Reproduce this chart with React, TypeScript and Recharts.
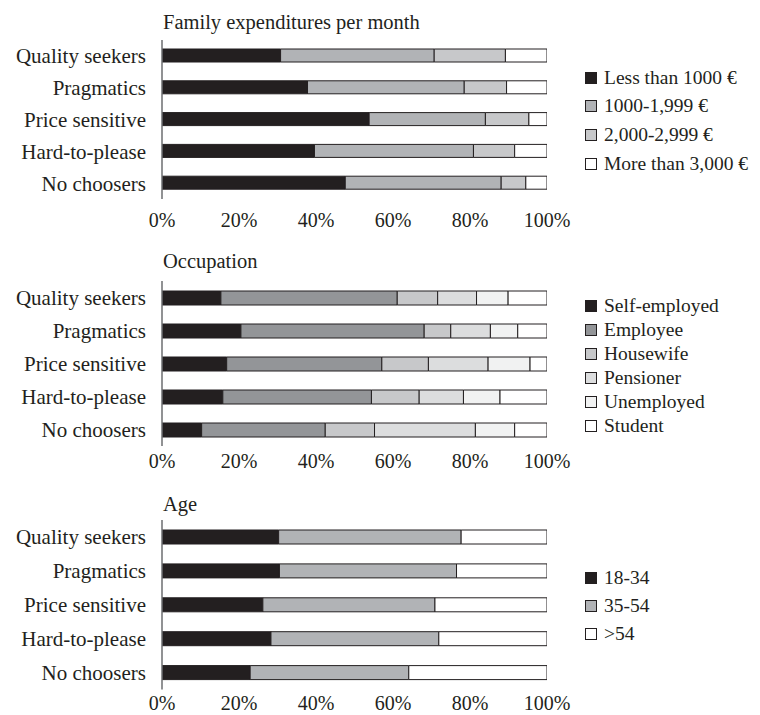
import { BarChart, Bar, XAxis, YAxis } from "recharts";

const FONT = '"Liberation Serif", "Times New Roman", serif';
const INK = "#231f20";

const segments = ["Quality seekers", "Pragmatics", "Price sensitive", "Hard-to-please", "No choosers"];
const pctTicks = [0, 20, 40, 60, 80, 100];

// family expenditures per month (% of each segment)
const spendLabels = ["Less than 1000 €", "1000-1,999 €", "2,000-2,999 €", "More than 3,000 €"];
const spendColors = [INK, "#b1b3b6", "#c7c8ca", "#ffffff"];
const spendUnder1000 = [30.8, 37.8, 53.8, 39.6, 47.6];
const spend1000 = [39.9, 40.7, 30.2, 41.3, 40.5];
const spend2000 = [18.5, 11.0, 11.3, 10.7, 6.4];
const spend3000 = [10.8, 10.5, 4.7, 8.4, 5.5];

// occupation
const jobLabels = ["Self-employed", "Employee", "Housewife", "Pensioner", "Unemployed", "Student"];
const jobColors = [INK, "#939598", "#c7c8ca", "#dcddde", "#f1f2f2", "#ffffff"];
const selfEmployed = [15.3, 20.5, 16.8, 15.8, 10.3];
const employee = [45.8, 47.6, 40.3, 38.6, 32.1];
const housewife = [10.5, 6.9, 12.1, 12.4, 12.8];
const pensioner = [10.1, 10.3, 15.5, 11.5, 26.2];
const unemployed = [8.2, 7.1, 10.9, 9.5, 10.2];
const student = [10.1, 7.6, 4.4, 12.2, 8.4];

// age
const ageLabels = ["18-34", "35-54", ">54"];
const ageColors = [INK, "#b1b3b6", "#ffffff"];
const age18 = [30.3, 30.5, 26.2, 28.3, 22.9];
const age35 = [47.4, 46.0, 44.7, 43.6, 41.2];
const age55 = [22.3, 23.5, 29.1, 28.1, 35.9];

type Series = { name: string; values: number[]; color: string };

function Panel({
  title,
  titleBase,
  plotTop,
  band,
  barSize,
  tickGap,
  legendTop,
  legendStep,
  series,
}: {
  title: string;
  titleBase: number;
  plotTop: number;
  band: number;
  barSize: number;
  tickGap: number;
  legendTop: number;
  legendStep: number;
  series: Series[];
}) {
  const rows = segments.map((seg, i) => {
    const r: Record<string, any> = { seg };
    series.forEach((s, k) => (r["s" + k] = s.values[i]));
    return r;
  });
  const plotH = band * segments.length;
  const pad = 4;
  const titleSize = 20.5;
  return (
    <>
      <div
        style={{
          position: "absolute",
          left: 163,
          top: titleBase - 0.8375 * titleSize,
          fontSize: titleSize,
          lineHeight: titleSize + "px",
          whiteSpace: "nowrap",
        }}
      >
        {title}
      </div>
      <div style={{ position: "absolute", left: 0, top: plotTop - pad }}>
        <BarChart
          width={760}
          height={plotH + pad + 40}
          data={rows}
          layout="vertical"
          margin={{ top: pad, right: 213, bottom: 0, left: 0 }}
        >
          <XAxis
            type="number"
            domain={[0, 100]}
            allowDataOverflow
            ticks={pctTicks}
            tickFormatter={(v) => v + "%"}
            axisLine={false}
            tickLine={false}
            tickSize={0}
            tickMargin={tickGap}
            height={40}
            tick={{ fontSize: 20, fill: INK, fontFamily: FONT }}
          />
          <YAxis
            type="category"
            dataKey="seg"
            width={162}
            tickLine={false}
            tickSize={0}
            tickMargin={16}
            axisLine={{ stroke: "#6d6e71", strokeWidth: 1.5 }}
            tick={{ fontSize: 21, fill: INK, fontFamily: FONT }}
          />
          {series.map((s, k) => (
            <Bar
              key={s.name}
              dataKey={"s" + k}
              name={s.name}
              stackId="a"
              fill={s.color}
              stroke={INK}
              strokeWidth={1}
              barSize={barSize}
              isAnimationActive={false}
            />
          ))}
        </BarChart>
      </div>
      {series.map((s, i) => (
        <div
          key={s.name}
          style={{
            position: "absolute",
            left: 585,
            top: legendTop + i * legendStep - 11,
            height: 22,
            display: "flex",
            alignItems: "center",
            fontSize: 19.5,
            whiteSpace: "nowrap",
          }}
        >
          <span
            style={{
              display: "inline-block",
              width: 10,
              height: 10,
              border: `1px solid ${INK}`,
              background: s.color,
              marginRight: 7,
            }}
          />
          {s.name}
        </div>
      ))}
    </>
  );
}

export default function App() {
  const spend = [spendUnder1000, spend1000, spend2000, spend3000].map((values, i) => ({
    name: spendLabels[i],
    values,
    color: spendColors[i],
  }));
  const jobs = [selfEmployed, employee, housewife, pensioner, unemployed, student].map((values, i) => ({
    name: jobLabels[i],
    values,
    color: jobColors[i],
  }));
  const ages = [age18, age35, age55].map((values, i) => ({
    name: ageLabels[i],
    values,
    color: ageColors[i],
  }));
  return (
    <div
      style={{
        position: "absolute",
        left: 0,
        top: 0,
        width: 760,
        height: 715,
        background: "#fff",
        fontFamily: FONT,
        color: INK,
      }}
    >
      <Panel
        title="Family expenditures per month"
        titleBase={29}
        plotTop={40}
        band={31.8}
        barSize={13}
        tickGap={14}
        legendTop={77.5}
        legendStep={28.7}
        series={spend}
      />
      <Panel
        title="Occupation"
        titleBase={268}
        plotTop={281.2}
        band={33}
        barSize={14}
        tickGap={8}
        legendTop={306}
        legendStep={23.9}
        series={jobs}
      />
      <Panel
        title="Age"
        titleBase={511}
        plotTop={520}
        band={33.9}
        barSize={14}
        tickGap={6}
        legendTop={578}
        legendStep={28}
        series={ages}
      />
    </div>
  );
}
